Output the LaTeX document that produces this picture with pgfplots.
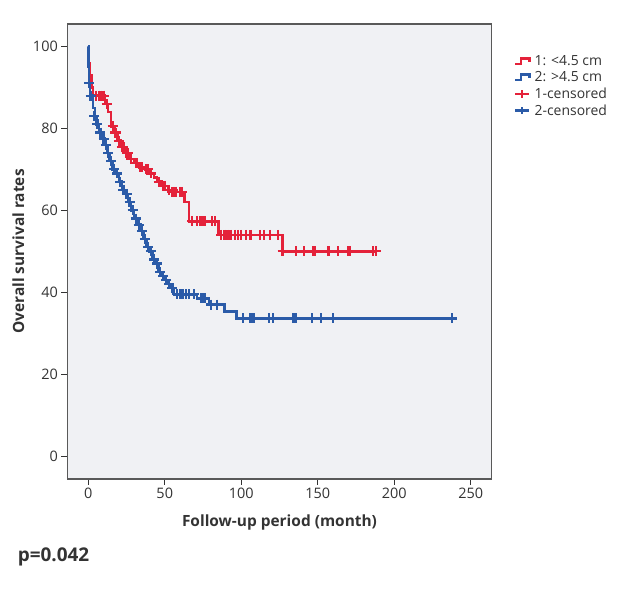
\documentclass[border=0pt]{standalone}
\usepackage{fontspec}
\setmainfont{Open Sans}
\usepackage{pgfplots}
\pgfplotsset{compat=1.18}

\definecolor{kmred}{HTML}{E4223A}
\definecolor{kmblue}{HTML}{2B5BA8}
\definecolor{plotbg}{HTML}{F0F1F4}
\definecolor{txt}{HTML}{333333}

\pgfplotsset{
  steplegend/.style={legend image code/.code={%
    \draw[##1, mark=none] (0cm,-0.08cm) -- (0.2cm,-0.08cm) -- (0.2cm,0.1cm) -- (0.5cm,0.1cm) -- (0.5cm,-0.02cm);}},
  censlegend/.style={legend image code/.code={%
    \draw[##1, mark=none] (0cm,0cm) -- (0.5cm,0cm) (0.25cm,-0.13cm) -- (0.25cm,0.13cm);}},
}

\begin{document}
\begin{tikzpicture}
\begin{axis}[
    name=ax,
    scale only axis,
    width=424.4bp, height=455bp,
    xmin=-13.7, xmax=263.7,
    ymin=-5.6, ymax=105.5,
    xtick={0,50,100,150,200,250},
    ytick={0,20,40,60,80,100},
    tick align=outside,
    major tick length=6bp,
    xtick pos=bottom, ytick pos=left,
    tick style={txt, line width=0.8pt},
    axis line style={black!65, line width=1.1pt},
    axis background/.style={fill=plotbg},
    ticklabel style={font=\fontsize{14.5}{17}\selectfont, text=txt},
    /pgf/number format/assume math mode=true,
    xlabel={\textbf{Follow-up period (month)}},
    ylabel={\textbf{Overall survival rates}},
    label style={font=\fontsize{15.5}{18}\selectfont, text=txt},
    xlabel style={yshift=-9bp},
    ylabel style={yshift=2bp},
    legend style={at={(1.052,0.935)}, anchor=north west, draw=none, fill=none,
        font=\fontsize{14}{16}\selectfont, text=txt, row sep=0.5bp,
        inner sep=0pt, nodes={inner xsep=4bp},
        every odd column/.style={column sep=7bp}},
    legend cell align=left,
]
\addplot[const plot, kmred, line width=2.5pt, forget plot] coordinates {
(0,100)(0.5,96)(1,93)(2,90)(3,88)(11,86)(13,84)(15,80.5)(17,79)(19,77)(21,75.5)
(24,74)(27,72.5)(30,71.5)(33,70.5)(37,70)(40,69)(43,68)(45,67)(48,66)(52,65)
(58,64.5)(63,62)(66,57.3)(85,54)(127,50)(188,50)
};
\addplot[const plot, kmblue, line width=2.5pt, forget plot] coordinates {
(0,100)(0.3,95)(0.6,91)(1.2,88)(3,85)(4.5,83)(5.5,81)(7,79)(9,77.5)(11,76)
(12.5,74)(14,72)(16,70)(18,69)(20,67)(22,65)(24,64)(26,62)(28,60)(30,58)
(32,56.5)(34,55)(36,53)(38,51)(40,50)(42,48)(44,47)(46,45)(48,44)(50,43)
(52,42)(54,41)(56,39.5)(71,38.5)(79,37)(89,35.3)(97,33.6)(237.5,33.6)
};
% legend entries for the step lines
\addlegendimage{kmred, line width=2.5pt, steplegend}
\addlegendentry{1: <4.5 cm}
\addlegendimage{kmblue, line width=2.5pt, steplegend}
\addlegendentry{2: >4.5 cm}
\addplot[only marks, mark=+, mark size=5bp, kmred, line width=2.2pt, censlegend] coordinates {
(5,88)(7,88)(8,88)(10,88)(12,86)(16,80.5)(17.5,79)(18,79)(20,77)(22,75.5)(23,75.5)
(25,74)(26,74)(28,72.5)(31,71.5)(32,71.5)(34,70.5)(35,70.5)(38,70)(39,70)(41,69)
(46,67)(49,66)(50,66)(53,65)(55,64.5)(56,64.5)(57,64.5)(60,64.5)(61,64.5)
(68,57.3)(71,57.3)(73,57.3)(74,57.3)(76,57.3)(81,57.3)(83,57.3)
(87,54)(89,54)(91,54)(93,54)(96,54)(98,54)(100,54)(103,54)(106,54)(112,54)
(115,54)(119,54)(124,54)
(127,50)(136,50)(141,50)(147,50)(148,50)(157,50)(163,50)(170,50)(171,50)(186,50)(188,50)
};
\addlegendentry{1-censored}
\addplot[only marks, mark=+, mark size=5bp, kmblue, line width=2.2pt, censlegend] coordinates {
(0.5,91)(1.5,88)(4,83)(6,81)(8,79)(10,77.5)(11.5,76)(13,74)(15,72)(17,70)(19,69)
(21,67)(23,65)(25,64)(27,62)(29,60)(31,58)(33,56.5)(35,55)(37,53)(39,51)(41,50)
(43,48)(45,47)(47,45)(49,44)(51,43)(53,42)(55,41)(58,39.5)(60,39.5)(61,39.5)
(62,39.5)(64,39.5)(66,39.5)(69,39.5)(74,38.5)(76,38.5)(80,37)(84,37)
(101,33.6)(106,33.6)(107,33.6)(108,33.6)(118,33.6)(121,33.6)(134,33.6)(135,33.6)
(136,33.6)(146,33.6)(152,33.6)(160,33.6)(237.5,33.6)
};
\addlegendentry{2-censored}
\end{axis}
\node[anchor=west, text=txt, font=\fontsize{19}{22}\selectfont\bfseries]
  at ([shift={(-53bp,-78bp)}]ax.south west) {p=0.042};
\path ([shift={(-67.3bp,-112bp)}]ax.south west) rectangle ([shift={(146.3bp,24bp)}]ax.north east);
\end{tikzpicture}
\end{document}
